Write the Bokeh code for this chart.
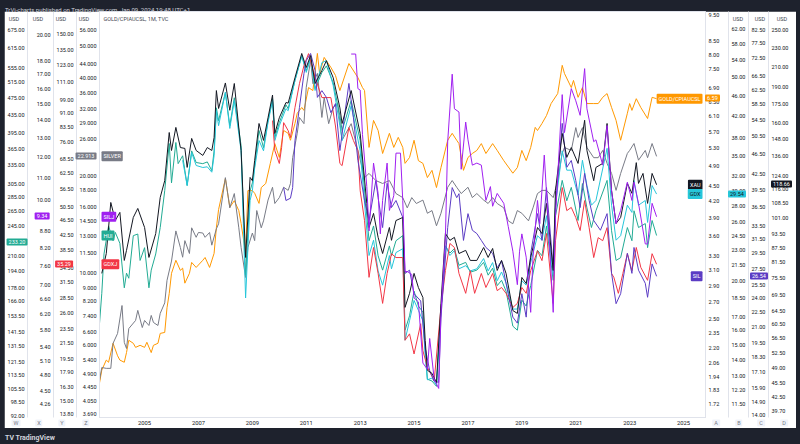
import math
import pandas as pd
from bokeh.plotting import figure
from bokeh.models import (Range1d, LogScale, LogAxis, FixedTicker, PrintfTickFormatter,
                          DatetimeTickFormatter, Label, Div, Spacer, ColumnDataSource)
from bokeh.layouts import column, row
from bokeh.embed import file_html
from bokeh.resources import INLINE

# ---------------- data (monthly closes) ----------------
xau_dates = ["2003-06","2003-08","2003-10","2003-12","2004-02","2004-04","2004-05","2004-08","2004-10","2005-01",
             "2005-03","2005-06","2005-08","2005-10","2005-12","2006-01","2006-03","2006-05","2006-07","2006-08",
             "2006-10","2006-12","2007-03","2007-05","2007-07","2007-08","2007-09","2007-10","2008-01","2008-03",
             "2008-05","2008-08","2008-10","2008-12","2009-01","2009-02","2009-04","2009-06","2009-08","2009-10",
             "2009-11","2010-01","2010-04","2010-05","2010-08","2010-11","2011-01","2011-03","2011-05","2011-08",
             "2011-10","2012-01","2012-04","2012-05","2012-09","2013-01","2013-04","2013-05","2013-07","2013-09",
             "2013-11","2014-02","2014-03","2014-05","2014-08","2014-09","2014-11","2015-01","2015-03","2015-05",
             "2015-06","2015-07","2015-09","2015-11","2016-01","2016-03","2016-05","2016-07","2016-09","2016-12",
             "2017-02","2017-05","2017-08","2017-10","2017-12","2018-02","2018-04","2018-06","2018-09","2018-11",
             "2019-01","2019-03","2019-05","2019-08","2019-10","2019-12","2020-03","2020-04","2020-07","2020-09",
             "2020-11","2021-02","2021-05","2021-06","2021-09","2021-10","2022-01","2022-03","2022-05","2022-07",
             "2022-09","2022-12","2023-02","2023-04","2023-05","2023-07","2023-09","2023-11","2024-01"]
xau_values = [77.3,85.1,108.9,99.8,103.8,82.3,86.4,101.3,105.8,96.5,
              83.5,93.7,111.6,121.0,152.7,140.0,156.5,142.0,141.4,129.0,
              148.4,140.0,136.7,142.0,140.0,149.0,187.0,171.5,194.0,170.0,
              193.5,140.0,83.5,122.9,121.0,133.4,159.5,147.0,164.0,183.0,
              152.0,164.0,176.5,176.0,199.0,223.7,209.0,221.5,193.5,206.0,
              216.0,199.0,172.0,159.5,187.0,152.0,108.4,96.5,103.3,92.0,
              85.1,96.5,90.7,99.8,101.3,65.6,70.2,77.3,72.2,68.8,
              55.9,48.4,47.7,45.6,66.9,93.7,90.7,92.0,85.1,86.4,
              82.3,82.3,87.6,83.5,87.2,78.4,82.3,77.3,64.6,63.7,
              75.8,73.6,83.5,96.5,93.7,108.4,78.4,115.4,152.0,135.4,
              142.0,131.5,162.0,140.0,121.0,129.0,131.5,159.5,115.4,98.4,
              101.3,119.4,113.8,132.0,119.4,125.3,108.4,125.3,118.66]

hui_dates = ["2003-05","2003-06","2003-07","2003-09","2003-11","2003-12","2004-02","2004-04","2004-05","2004-06",
             "2004-08","2004-10","2004-11","2005-01","2005-03","2005-04","2005-06","2005-08","2005-10","2005-12",
             "2006-01","2006-03","2006-04","2006-06","2006-08","2006-10","2006-12","2007-03","2007-05","2007-07",
             "2007-08","2007-09","2007-10","2008-01","2008-03","2008-05","2008-08","2008-10","2008-12","2009-01",
             "2009-02","2009-04","2009-06","2009-08","2009-10","2009-11","2010-01","2010-04","2010-05","2010-08",
             "2010-11","2011-01","2011-03","2011-05","2011-08","2011-10","2012-01","2012-04","2012-05","2012-09",
             "2013-01","2013-04","2013-05","2013-07","2013-09","2013-11","2014-02","2014-03","2014-05","2014-08",
             "2014-09","2014-11","2015-01","2015-03","2015-05","2015-06","2015-07","2015-09","2015-11","2016-01",
             "2016-03","2016-05","2016-07","2016-09","2016-12","2017-02","2017-05","2017-08","2017-10","2017-12",
             "2018-02","2018-04","2018-06","2018-09","2018-11","2019-01","2019-03","2019-05","2019-08","2019-10",
             "2019-12","2020-03","2020-04","2020-07","2020-09","2020-11","2021-02","2021-04","2021-06","2021-08",
             "2021-10","2022-03","2022-05","2022-07","2022-09","2022-12","2023-02","2023-03","2023-05","2023-08",
             "2023-09","2023-11","2024-01"]
hui_values = [148,173,212,245,227,237,224,178,192,187,
              233,235,205,219,178,195,212,243,294,375,
              306,377,338,352,302,361,340,338,341,326,
              361,451,422,488,411,475,371,190,294,306,
              334,401,367,422,473,387,418,458,449,519,
              590,546,584,498,541,560,513,433,401,468,
              381,258,227,245,210,195,221,210,227,233,
              143,154,175,162,157,129,111,110,107,158,
              221,213,218,200,203,193,195,203,190,197,
              180,185,175,146,143,167,162,180,216,210,
              245,185,258,310,279,299,252,305,269,243,
              265,310,239,205,208,243,227,265,243,248,
              219,252,233.2]

gdx_dates = ["2006-06","2006-08","2006-10","2006-12","2007-03","2007-05","2007-07","2007-08","2007-09","2007-10",
             "2008-01","2008-03","2008-05","2008-08","2008-10","2008-12","2009-01","2009-02","2009-04","2009-06",
             "2009-08","2009-10","2009-11","2010-01","2010-04","2010-05","2010-08","2010-11","2011-01","2011-03",
             "2011-05","2011-08","2011-10","2012-01","2012-04","2012-05","2012-09","2013-01","2013-04","2013-05",
             "2013-07","2013-09","2013-11","2014-02","2014-03","2014-05","2014-08","2014-09","2014-11","2015-01",
             "2015-03","2015-05","2015-06","2015-07","2015-09","2015-11","2016-01","2016-03","2016-05","2016-07",
             "2016-09","2016-12","2017-02","2017-05","2017-08","2017-10","2017-12","2018-02","2018-04","2018-06",
             "2018-09","2018-11","2019-01","2019-03","2019-05","2019-08","2019-10","2019-12","2020-03","2020-04",
             "2020-07","2020-09","2020-11","2021-02","2021-04","2021-06","2021-08","2021-10","2022-03","2022-05",
             "2022-07","2022-09","2022-12","2023-02","2023-03","2023-05","2023-08","2023-09","2023-11","2024-01"]
gdx_values = [34.4,30.7,35.6,33.6,33.3,33.4,32.6,35.1,43.0,40.2,
              46.7,39.7,45.0,35.9,18.5,28.7,30.0,33.2,37.6,35.9,
              40.8,45.0,37.6,40.2,43.4,43.0,49.3,55.1,51.1,54.4,
              47.1,53.4,53.9,48.2,40.2,37.6,44.0,35.9,25.1,22.4,
              24.0,20.9,19.6,22.4,21.1,22.7,23.1,15.3,16.7,18.3,
              17.5,16.7,14.3,12.8,12.9,12.5,17.5,23.4,22.4,22.9,
              21.1,21.4,20.9,21.1,22.1,20.9,21.7,20.0,20.8,19.8,
              17.6,17.6,20.0,19.6,21.7,24.5,24.0,26.8,20.5,28.1,
              35.9,32.9,32.9,29.4,34.4,30.7,28.1,28.7,36.3,28.1,
              24.0,24.5,28.1,27.2,31.4,28.1,28.7,26.0,30.7,29.54]

gdxj_dates = ["2009-10","2009-11","2010-01","2010-02","2010-03","2010-05","2010-06","2010-08","2010-10","2010-12",
              "2011-02","2011-05","2011-08","2011-12","2012-02","2012-04","2012-05","2012-08","2012-10","2012-12",
              "2013-01","2013-03","2013-05","2013-07","2013-09","2013-11","2014-01","2014-03","2014-05","2014-08",
              "2014-09","2014-11","2015-01","2015-04","2015-05","2015-07","2015-10","2016-01","2016-03","2016-05",
              "2016-07","2016-09","2016-12","2017-02","2017-04","2017-07","2017-09","2017-12","2018-02","2018-04",
              "2018-06","2018-09","2018-11","2019-01","2019-03","2019-05","2019-08","2019-10","2019-12","2020-03",
              "2020-04","2020-07","2020-09","2020-11","2021-01","2021-03","2021-05","2021-07","2021-09","2021-11",
              "2022-01","2022-03","2022-05","2022-06","2022-08","2022-10","2022-12","2023-02","2023-04","2023-06",
              "2023-09","2023-11","2024-01"]
gdxj_values = [86.9,72.0,66.4,73.4,85.8,81.6,78.1,94.3,109.6,122.7,
               132.3,113.8,100.4,100.4,84.0,66.4,65.5,83.2,76.7,72.0,
               56.0,46.4,32.5,39.2,33.3,27.6,33.3,37.7,36.8,36.8,
               21.9,22.8,20.1,24.3,20.5,18.5,17.0,26.9,33.9,40.2,
               39.2,33.3,29.4,33.9,29.4,33.3,30.5,33.3,29.9,30.5,
               29.4,26.9,27.6,30.5,29.4,33.9,38.4,36.1,42.8,27.6,
               40.9,57.1,49.4,50.4,47.3,43.6,52.6,44.4,36.8,41.7,
               40.9,44.4,33.3,32.5,29.4,33.3,37.7,33.9,39.2,34.6,
               31.9,37.7,35.29]

sil_dates = ["2010-03","2010-04","2010-06","2010-07","2010-08","2010-10","2010-12","2011-01","2011-03","2011-05",
             "2011-06","2011-08","2011-10","2011-12","2012-02","2012-04","2012-08","2012-10","2012-12","2013-03",
             "2013-05","2013-08","2013-09","2013-11","2014-01","2014-03","2014-05","2014-08","2014-09","2014-11",
             "2015-01","2015-04","2015-06","2015-08","2015-10","2015-12","2016-01","2016-04","2016-06","2016-08",
             "2016-09","2016-11","2017-01","2017-03","2017-05","2017-07","2017-09","2017-12","2018-02","2018-04",
             "2018-06","2018-09","2018-11","2019-01","2019-03","2019-05","2019-08","2019-10","2019-12","2020-03",
             "2020-04","2020-07","2020-09","2020-11","2021-01","2021-03","2021-05","2021-07","2021-09","2021-12",
             "2022-03","2022-05","2022-07","2022-09","2022-12","2023-02","2023-03","2023-05","2023-08","2023-09",
             "2023-11","2024-01"]
sil_values = [39.9,37.6,38.0,39.9,49.5,57.7,67.4,71.5,73.9,68.3,
              60.4,62.3,60.4,56.3,58.7,47.3,64.4,55.1,45.2,37.6,
              34.3,41.2,38.1,33.2,40.7,36.4,37.6,34.8,26.9,27.3,
              24.5,23.7,19.1,17.2,16.4,16.3,22.0,33.2,39.9,38.1,
              38.8,31.3,35.4,32.8,32.3,31.3,30.3,29.5,27.6,28.5,
              25.7,22.0,21.4,24.5,22.0,29.5,35.4,31.3,39.9,27.6,
              36.4,53.6,43.8,45.2,41.2,36.4,42.6,37.6,34.3,32.8,
              35.4,26.9,23.4,24.5,29.5,26.9,30.3,27.3,25.7,24.1,
              28.1,26.54]

silj_dates = ["2012-09","2012-11","2012-12","2013-01","2013-02","2013-04","2013-05","2013-07","2013-09","2013-10",
              "2013-11","2014-01","2014-02","2014-04","2014-05","2014-07","2014-08","2014-09","2014-10","2014-12",
              "2015-01","2015-03","2015-05","2015-07","2015-08","2015-10","2015-12","2016-01","2016-03","2016-04",
              "2016-06","2016-07","2016-09","2016-10","2016-12","2017-01","2017-03","2017-05","2017-07","2017-09",
              "2017-11","2017-12","2018-02","2018-05","2018-07","2018-09","2018-11","2018-12","2019-01","2019-03",
              "2019-05","2019-06","2019-08","2019-09","2019-11","2020-01","2020-03","2020-04","2020-07","2020-08",
              "2020-11","2021-01","2021-03","2021-05","2021-06","2021-09","2021-10","2022-01","2022-03","2022-05",
              "2022-07","2022-09","2022-12","2023-02","2023-03","2023-05","2023-08","2023-09","2023-11","2024-01"]
silj_values = [18.5,18.5,16.0,15.9,13.2,10.6,8.80,11.7,10.3,8.69,
               10.0,11.7,9.59,10.2,12.2,12.2,10.0,7.42,7.42,7.33,
               6.64,6.53,5.05,4.92,5.60,4.72,4.54,6.25,8.58,12.8,
               17.0,14.7,14.5,11.4,13.9,12.9,11.6,11.7,11.6,10.0,
               10.6,9.76,10.3,9.88,8.96,8.08,7.02,8.08,8.69,7.88,
               6.25,7.88,10.0,9.07,12.1,8.80,6.25,9.35,15.6,13.3,
               16.0,15.2,14.3,17.4,14.7,12.8,12.9,11.6,13.7,10.4,
               9.07,9.59,10.8,10.0,10.8,9.88,8.33,8.33,9.88,9.34]

silver_dates = ["2003-05","2003-06","2003-08","2003-10","2003-11","2004-01","2004-03","2004-04","2004-05","2004-06",
                "2004-09","2004-10","2004-12","2005-01","2005-03","2005-04","2005-05","2005-07","2005-08","2005-10",
                "2005-11","2006-01","2006-03","2006-05","2006-06","2006-07","2006-09","2006-10","2006-12","2007-01",
                "2007-03","2007-04","2007-06","2007-07","2007-09","2007-10","2008-01","2008-03","2008-05","2008-07",
                "2008-08","2008-10","2008-11","2009-01","2009-02","2009-03","2009-05","2009-06","2009-08","2009-10",
                "2009-11","2010-01","2010-03","2010-05","2010-06","2010-07","2010-09","2010-10","2010-12","2011-01",
                "2011-03","2011-04","2011-06","2011-08","2011-09","2011-11","2012-01","2012-03","2012-05","2012-09",
                "2012-12","2013-03","2013-05","2013-08","2013-11","2014-02","2014-05","2014-08","2014-10","2014-12",
                "2015-02","2015-05","2015-07","2015-09","2015-11","2016-01","2016-04","2016-06","2016-08","2016-10",
                "2017-01","2017-03","2017-05","2017-08","2017-10","2017-12","2018-02","2018-05","2018-07","2018-09",
                "2018-11","2019-01","2019-04","2019-06","2019-08","2019-10","2019-12","2020-03","2020-05","2020-07",
                "2020-08","2020-11","2021-01","2021-02","2021-04","2021-06","2021-09","2021-11","2022-01","2022-03",
                "2022-05","2022-07","2022-09","2022-12","2023-01","2023-03","2023-05","2023-08","2023-09","2023-11",
                "2024-01"]
silver_values = [4.67,5.12,5.09,5.09,6.08,6.52,7.95,6.12,5.86,6.75,
                 7.15,7.68,6.80,7.15,6.90,7.41,7.05,6.90,7.52,8.10,
                 9.50,10.9,13.5,12.0,11.2,12.6,11.5,13.8,12.9,13.35,
                 13.3,12.9,13.35,12.2,13.7,14.2,19.7,15.9,17.6,13.8,
                 12.0,9.70,12.0,13.3,12.6,15.6,13.8,14.5,16.8,18.4,
                 16.4,17.1,18.4,18.0,18.9,22.7,27.0,30.2,28.9,37.4,
                 45.3,38.4,41.3,30.2,34.8,28.9,32.4,33.4,25.7,28.9,
                 23.9,19.7,20.3,19.3,18.9,19.3,17.6,17.1,15.9,17.1,
                 16.4,16.8,15.3,15.6,14.0,15.3,18.4,19.3,18.4,17.6,
                 18.4,17.1,17.6,16.8,16.4,17.1,16.4,15.9,14.5,14.2,
                 15.6,15.3,14.5,15.9,17.6,18.0,18.0,17.1,19.3,23.4,
                 24.4,23.9,28.1,26.2,28.1,24.4,22.7,22.7,23.9,21.8,
                 20.3,18.0,20.3,23.4,23.9,25.1,22.3,23.9,22.7,25.1,
                 22.913]

gcpi_dates = ["2003-05","2003-06","2003-08","2003-09","2003-11","2004-01","2004-02","2004-04","2004-05","2004-06",
              "2004-08","2004-09","2004-11","2005-01","2005-02","2005-04","2005-05","2005-07","2005-08","2005-10",
              "2005-11","2005-12","2006-01","2006-03","2006-05","2006-06","2006-07","2006-09","2006-10","2006-12",
              "2007-03","2007-04","2007-06","2007-08","2007-09","2007-10","2008-01","2008-03","2008-05","2008-07",
              "2008-08","2008-10","2008-11","2009-01","2009-02","2009-04","2009-05","2009-07","2009-09","2009-11",
              "2010-01","2010-03","2010-05","2010-06","2010-08","2010-09","2010-11","2010-12","2011-02","2011-04",
              "2011-06","2011-07","2011-09","2011-12","2012-02","2012-04","2012-08","2012-12","2013-02","2013-03",
              "2013-05","2013-07","2013-09","2013-11","2014-02","2014-04","2014-06","2014-08","2014-09","2014-11",
              "2015-01","2015-03","2015-05","2015-07","2015-09","2015-11","2016-01","2016-04","2016-06","2016-08",
              "2016-09","2016-11","2017-01","2017-03","2017-05","2017-07","2017-09","2017-12","2018-02","2018-05",
              "2018-09","2018-11","2019-01","2019-03","2019-05","2019-07","2019-08","2019-10","2019-12","2020-02",
              "2020-05","2020-07","2020-08","2020-11","2020-12","2021-02","2021-04","2021-06","2021-09","2021-11",
              "2022-01","2022-03","2022-05","2022-07","2022-09","2022-12","2023-01","2023-02","2023-04","2023-06",
              "2023-09","2023-11","2024-01"]
gcpi_values = [1.89,2.00,2.09,2.07,2.25,2.13,2.09,2.07,2.16,2.28,
               2.25,2.21,2.23,2.21,2.26,2.16,2.23,2.25,2.35,2.36,
               2.63,2.80,3.06,3.24,3.10,3.13,2.93,3.06,3.21,3.14,
               3.24,3.28,3.14,3.34,3.74,4.05,4.64,4.09,4.21,4.03,
               3.81,3.34,4.40,4.40,4.35,4.16,4.46,4.54,4.96,5.41,
               5.09,5.73,5.66,5.49,5.91,6.18,6.34,6.26,6.92,6.83,
               8.04,7.36,7.90,7.56,7.30,6.83,7.69,7.23,6.92,6.83,
               5.32,5.99,5.73,5.18,5.66,5.32,5.56,5.32,4.96,5.09,
               5.49,5.02,4.96,4.66,4.81,4.46,4.87,5.49,5.66,5.49,
               5.41,4.81,5.09,5.18,5.25,5.41,5.18,5.41,5.25,5.02,
               4.75,4.87,5.25,5.02,5.32,5.81,5.73,5.91,6.12,6.45,
               6.74,7.63,7.36,6.92,7.14,6.63,6.92,6.45,6.45,6.45,
               6.63,6.74,6.34,5.99,5.49,6.18,6.45,6.26,6.59,6.34,
               6.04,6.63,6.59]

# price-scale tick labels (each scale is logarithmic)
w_ticks = [675, 615, 555, 515, 475, 435, 395, 365, 335, 305, 285, 265, 245, 225, 210, 194, 178, 166,
           153.5, 141.5, 131.5, 121.5, 113.5, 105.5, 98.5, 92]
x_ticks = [20, 18, 17, 16, 15, 14, 13, 12, 11, 10, 8.8, 8.2, 7.6, 7.0, 6.6, 6.2, 5.8, 5.4, 5.1, 4.8, 4.5, 4.26]
y_ticks = [150, 135, 123, 111, 99, 91, 83.5, 76, 68.5, 62.5, 56.5, 50.5, 46.5, 42.5, 38.5, 34.5, 31.5, 28.5,
           26, 23.5, 21.5, 19.5, 17.9, 16.3, 15, 13.8]
z_ticks = [56, 50, 44, 40, 36, 32, 29, 26, 20, 18, 16, 14.5, 13, 11.5, 10, 9, 8.2, 7.4, 6.6, 6.0, 5.4,
           4.9, 4.45, 4.05, 3.69]
a_ticks = [9.5, 8.5, 8.0, 7.5, 6.9, 6.5, 6.1, 5.7, 5.3, 4.9, 4.5, 4.2, 3.9, 3.6, 3.3, 3.1, 2.9, 2.7, 2.5,
           2.35, 2.2, 2.06, 1.94, 1.83, 1.72]
b_ticks = [62, 58, 54, 50, 46, 42, 38, 35, 32, 30, 28, 26, 24.5, 23, 21.5, 20, 18.5, 17, 16, 15, 14, 13,
           12.2, 11.5]
c_ticks = [82.5, 77.5, 72.5, 66.5, 62.5, 58.5, 54.5, 50.5, 46.5, 42.5, 39.5, 36.5, 33.5, 31.5, 29.5, 27.5,
           25.5, 24, 22.5, 21, 19.5, 18.3, 17.1, 15.9, 14.9, 14.0]
d_ticks = [250, 230, 210, 190, 175, 160, 148, 136, 124, 116, 108.5, 101, 93.5, 87.5, 81.5, 75.5, 69.5, 64.5,
           60.5, 56.5, 52.5, 49, 45.5, 42.5, 39.7]
year_ticks = [2005, 2007, 2009, 2011, 2013, 2015, 2017, 2019, 2021, 2023, 2025]

# ---------------- layout / style ----------------
FONT = "Roboto"
BG = "#1e222d"
PAGE_X0, PAGE_Y0 = 4, 11          # where the white panel (figure) starts on the page
FIG_W, FIG_H = 792, 417
BORDER_L, BORDER_R, BORDER_B = 94, 91, 11
FRAME_W = FIG_W - BORDER_L - BORDER_R
FRAME_H = FIG_H - BORDER_B
AXIS_FS = "5.5px"

def ms(ts):
    return pd.Timestamp(ts).timestamp() * 1000.0

x_start, x_end = ms("2003-05-01"), ms("2025-10-25")

def px_x(px):
    return x_start + (px - BORDER_L) / FRAME_W * (x_end - x_start)

scales = {  # name: (side, bottom value, top value, ticks, format, extra pad)
    "Z": ("left", 3.591, 64.06, z_ticks, "%.3f", False),
    "Y": ("left", 13.49, 172.3, y_ticks, "%.2f", False),
    "X": ("left", 4.018, 22.12, x_ticks, "%.2f", True),
    "W": ("left", 91.1, 741.6, w_ticks, "%.2f", False),
    "A": ("right", 1.624, 9.666, a_ticks, "%.2f", True),
    "B": ("right", 10.80, 67.23, b_ticks, "%.2f", False),
    "C": ("right", 13.87, 89.63, c_ticks, "%.2f", False),
    "D": ("right", 38.53, 274.0, d_ticks, "%.2f", False),
}

def frame_y(rng, v):
    lo, hi = scales[rng][1], scales[rng][2]
    return FRAME_H * (math.log(v) - math.log(lo)) / (math.log(hi) - math.log(lo))

p = figure(width=FIG_W, height=FIG_H, x_axis_type="datetime", y_axis_location=None,
           x_range=Range1d(x_start, x_end), y_range=Range1d(0, FRAME_H),
           output_backend="svg", toolbar_location=None,
           min_border_left=BORDER_L, min_border_right=BORDER_R,
           min_border_top=0, min_border_bottom=BORDER_B)
p.background_fill_color = "white"
p.border_fill_color = "white"
p.outline_line_color = "#e0e3eb"
p.grid.visible = False

p.extra_y_ranges = {k: Range1d(v[1], v[2]) for k, v in scales.items()}
p.extra_y_scales = {k: LogScale() for k in scales}

for name, (side, lo, hi, ticks, fmt, pad) in scales.items():
    ax = LogAxis(y_range_name=name, ticker=FixedTicker(ticks=ticks),
                 formatter=PrintfTickFormatter(format=fmt))
    ax.major_label_text_font = FONT
    ax.major_label_text_font_size = AXIS_FS
    ax.major_label_text_color = "#131722"
    ax.major_label_standoff = 3
    ax.major_tick_out = 0
    ax.major_tick_in = 0
    ax.minor_tick_out = 0
    ax.minor_tick_in = 0
    ax.major_tick_line_color = None
    ax.minor_tick_line_color = None
    ax.axis_line_color = "#e0e3eb"
    if pad:
        ax.axis_label = " "
        ax.axis_label_text_font_size = "2px"
        ax.axis_label_standoff = 1
    p.add_layout(ax, side)

xa = p.xaxis[0]
xa.ticker = FixedTicker(ticks=[ms(f"{y}-01-01") for y in year_ticks])
xa.formatter = DatetimeTickFormatter(years="%Y", months="%Y", days="%Y", hours="%Y")
xa.major_label_text_font = FONT
xa.major_label_text_font_size = "5.8px"
xa.major_label_text_color = "#131722"
xa.major_label_standoff = 3
xa.major_tick_out = 0
xa.major_tick_in = 0
xa.minor_tick_out = 0
xa.major_tick_line_color = None
xa.minor_tick_line_color = None
xa.axis_line_color = "#e0e3eb"

series = [
    ("GOLD/CPIAUCSL", gcpi_dates, gcpi_values, "#ff9800", "A"),
    ("SILVER", silver_dates, silver_values, "#787b86", "Z"),
    ("HUI", hui_dates, hui_values, "#22ab94", "W"),
    ("GDX", gdx_dates, gdx_values, "#26c6da", "B"),
    ("GDXJ", gdxj_dates, gdxj_values, "#f23645", "Y"),
    ("SIL", sil_dates, sil_values, "#5b3cc4", "C"),
    ("XAU", xau_dates, xau_values, "#131722", "D"),
    ("SILJ", silj_dates, silj_values, "#a020f0", "X"),
]
for name, d, v, color, rng in series:
    src = ColumnDataSource(dict(date=pd.to_datetime([s + "-01" for s in d]), val=v))
    p.line("date", "val", source=src, y_range_name=rng, line_color=color, line_width=1.0)

colors = {s[0]: s[3] for s in series}
last = {s[0]: s[2][-1] for s in series}
axis_of = {s[0]: s[4] for s in series}

def tag(px, name, text, align, fg="white"):
    """name tag drawn inside the pane, at the series' last value"""
    p.add_layout(Label(x=px_x(px), y=frame_y(axis_of[name], last[name]), text=text, text_font=FONT,
                       text_font_size="5.5px", text_color=fg, text_align=align, text_baseline="middle",
                       background_fill_color=colors[name], padding=2, border_radius=1))

tag(96, "SILVER", "SILVER", "left")
tag(96, "SILJ", "SILJ", "left")
tag(96, "HUI", "HUI", "left")
tag(96, "GDXJ", "GDXJ", "left")
tag(698, "GOLD/CPIAUCSL", "GOLD/CPIAUCSL", "right")
tag(698, "XAU", "XAU", "right")
tag(698, "GDX", "GDX", "right", fg="#131722")
tag(698, "SIL", "SIL", "right")

p.add_layout(Label(x=px_x(98), y=FRAME_H - 7, text="GOLD/CPIAUCSL, 1M, TVC", text_font=FONT,
                   text_font_size="5.5px", text_color="#434651", text_align="left",
                   text_baseline="middle"))

# ---- texts over the price-scale margins (HTML overlay, page coordinates) ----
overlay = []

def page_y_of(rng, v):
    return PAGE_Y0 + FRAME_H - frame_y(rng, v)

def box(x, y, text, fg, bg=None, align="center"):
    tx = "-50%" if align == "center" else "0"
    st = (f"position:absolute;left:{x:.1f}px;top:{y:.1f}px;transform:translate({tx},-50%);"
          f"color:{fg};font:5.5px/7px Roboto,sans-serif;white-space:nowrap;")
    if bg:
        st += f"background:{bg};padding:0 2px;border-radius:1px;"
    overlay.append(f'<span style="{st}">{text}</span>')

for name, x, text, align, fg, dy in [
        ("HUI", 17, "233.20", "center", "white", 7),
        ("SILJ", 42, "9.34", "center", "white", 0),
        ("GDXJ", 64, "35.29", "center", "white", 0),
        ("SILVER", 86, "22.913", "center", "white", 0),
        ("GOLD/CPIAUCSL", 705, "6.59", "left", "white", 0),
        ("GDX", 728, "29.54", "left", "#131722", 0),
        ("SIL", 750, "26.54", "left", "white", 0),
        ("XAU", 771, "118.66", "left", "white", 0)]:
    box(x, page_y_of(axis_of[name], last[name]) + dy, text, fg, bg=colors[name], align=align)
for x in (14, 38, 61, 84, 738, 760, 782):
    box(x, 19, "USD", "#434651")
for x, letter in zip((16, 39, 62, 86, 716, 739, 761, 784), "WXYZABCD"):
    box(x, 422.5, letter, "#787b86", bg="#f0f3fa")

header = Div(text='<div style="color:#d1d4dc;font:6px Roboto,sans-serif;line-height:11px;'
                  'padding-left:5px;white-space:nowrap">TrVi-charts published on TradingView.com, '
                  'Jan 09, 2024 19:48 UTC+1</div>'
                  '<div style="position:absolute;left:0;top:0;width:800px;height:444px;'
                  'pointer-events:none;z-index:50;overflow:visible">' + "".join(overlay) + '</div>',
             width=800, height=11, margin=0, styles={"overflow": "visible", "z-index": "50"})
footer = Div(text='<div style="color:#d1d4dc;font:bold 7px Roboto,sans-serif;line-height:16px;'
                  'padding-left:5px;white-space:nowrap">TV TradingView</div>',
             width=800, height=16, margin=0)
body = row(Spacer(width=PAGE_X0, height=FIG_H, margin=0), p, Spacer(width=4, height=FIG_H, margin=0),
           spacing=0, margin=0)
layout = column(header, body, footer, spacing=0, margin=0, width=800, height=444,
                styles={"background-color": BG})

open("out.html", "w").write(file_html(layout, INLINE))
